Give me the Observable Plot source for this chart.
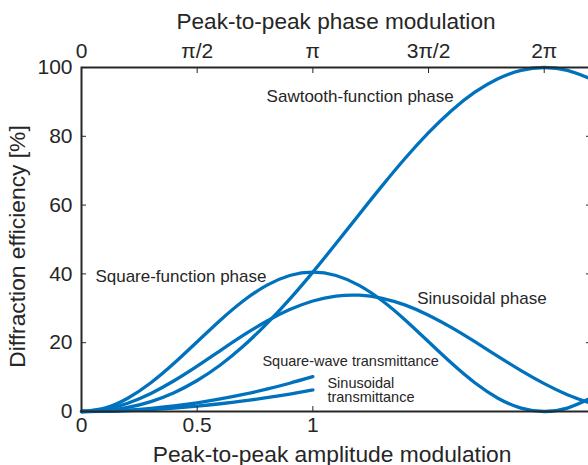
<!DOCTYPE html>
<html>
<head>
<meta charset="utf-8">
<script src="https://cdn.jsdelivr.net/npm/d3@7"></script>
<script src="https://cdn.jsdelivr.net/npm/@observablehq/plot@0.6"></script>
<style>
  html, body { margin: 0; padding: 0; background: #fff; overflow: hidden; }
  #chart { width: 588px; height: 465px; overflow: hidden; }
  #chart svg { max-width: none !important; display: block; }
</style>
</head>
<body>
<div id="chart"></div>
<script>
// Phase modulation in units of π (same axis position as amplitude modulation)
const phaseT = [0,0.1,0.2,0.3,0.4,0.5,0.6,0.7,0.8,0.9,1.0,1.1,1.2,1.3,1.4,1.5,1.6,1.7,1.8,1.9,2.0,2.1,2.2];
const sawtoothPhase = [0,0.27,1.19,2.89,5.47,9.01,13.53,19.04,25.46,32.67,40.53,48.81,57.29,65.66,73.68,81.06,87.52,92.83,96.75,99.18,100,99.18,96.75];
const squarePhase = [0,0.99,3.87,8.35,14.00,20.26,26.53,32.18,36.66,39.54,40.53,39.54,36.66,32.18,26.53,20.26,14.00,8.35,3.87,0.99,0,0.99,3.87];
const sinusoidalPhase = [0,0.61,2.41,5.25,8.93,13.19,17.71,22.18,26.24,29.63,32.13,33.55,33.81,32.91,30.92,28.01,24.38,20.30,16.04,11.89,8.10,4.89,2.43];

// Amplitude modulation
const ampM = [0,0.1,0.2,0.3,0.4,0.5,0.6,0.7,0.8,0.9,1.0];
const squareWaveTransmittance = [0,0.10,0.41,0.91,1.62,2.53,3.65,4.96,6.48,8.21,10.13];
const sinusoidalTransmittance = [0,0.06,0.25,0.56,1.00,1.56,2.25,3.06,4.00,5.06,6.25];

// Ticks
const bottomTicks = [0, 0.5, 1];
const bottomTickLabels = ["0", "0.5", "1"];
const topTicks = [0, 0.5, 1, 1.5, 2];
const topTickLabels = ["0", "π/2", "π", "3π/2", "2π"];
const yTicks = [0, 20, 40, 60, 80, 100];

const bottomTitle = "Peak-to-peak amplitude modulation";
const topTitle = "Peak-to-peak phase modulation";
const yTitle = "Diffraction efficiency [%]";

const series = [
  ...phaseT.map((t, i) => ({x: t, y: sawtoothPhase[i], s: "Sawtooth-function phase"})),
  ...phaseT.map((t, i) => ({x: t, y: squarePhase[i], s: "Square-function phase"})),
  ...phaseT.map((t, i) => ({x: t, y: sinusoidalPhase[i], s: "Sinusoidal phase"})),
  ...ampM.map((m, i) => ({x: m, y: squareWaveTransmittance[i], s: "Square-wave transmittance"})),
  ...ampM.map((m, i) => ({x: m, y: sinusoidalTransmittance[i], s: "Sinusoidal transmittance"}))
];

const bigLabels = [
  {x: 0.80, y: 91.6, text: "Sawtooth-function phase"},
  {x: 0.06, y: 39.2, text: "Square-function phase"},
  {x: 1.451, y: 32.8, text: "Sinusoidal phase"}
];
const smallLabels = [
  {x: 0.782, y: 14.4, text: "Square-wave transmittance"},
  {x: 1.063, y: 6.1, text: "Sinusoidal\ntransmittance"}
];

const ink = "#262626";
const blue = "#0072BD";
const font = "'Liberation Sans', Arial, Helvetica, sans-serif";
const bMap = new Map(bottomTicks.map((d, i) => [d, bottomTickLabels[i]]));
const tMap = new Map(topTicks.map((d, i) => [d, topTickLabels[i]]));

const chart = Plot.plot({
  width: 600,
  height: 465,
  marginLeft: 81,
  marginRight: 10,
  marginTop: 67,
  marginBottom: 54,
  style: {fontFamily: font, fontSize: "21px", color: ink, background: "#fff"},
  x: {domain: [0, 2.2]},
  y: {domain: [0, 100]},
  marks: [
    Plot.line(series, {x: "x", y: "y", z: "s", stroke: blue, strokeWidth: 3.3, curve: "natural"}),
    Plot.frame({stroke: ink, strokeWidth: 2}),
    // inward ticks
    Plot.axisX({anchor: "bottom", ticks: bottomTicks, tickSize: -5, fill: "none", stroke: ink, label: null}),
    Plot.axisX({anchor: "top", ticks: topTicks, tickSize: -5, fill: "none", stroke: ink, label: null}),
    Plot.axisY({anchor: "left", ticks: yTicks, tickSize: -5, fill: "none", stroke: ink, label: null}),
    Plot.axisY({anchor: "right", ticks: yTicks, tickSize: -5, fill: "none", stroke: ink, label: null}),
    // tick labels
    Plot.axisX({anchor: "bottom", ticks: bottomTicks, tickSize: 0, tickPadding: 6, stroke: "none", fill: ink, fontSize: 21, tickFormat: d => bMap.get(d), label: null}),
    Plot.axisX({anchor: "top", ticks: topTicks, tickSize: 0, tickPadding: 10, stroke: "none", fill: ink, fontSize: 21, tickFormat: d => tMap.get(d), label: null}),
    Plot.axisY({anchor: "left", ticks: yTicks, tickSize: 0, tickPadding: 9, stroke: "none", fill: ink, fontSize: 21, tickFormat: d => String(d), label: null}),
    // axis titles
    Plot.text([bottomTitle], {frameAnchor: "bottom", dx: -4, dy: 43, fontSize: 22.8, fill: ink, textAnchor: "middle", lineAnchor: "middle"}),
    Plot.text([topTitle], {frameAnchor: "top", dy: -46, fontSize: 22.6, fill: ink, textAnchor: "middle", lineAnchor: "middle"}),
    Plot.text([yTitle], {frameAnchor: "left", dx: -64, dy: 7, rotate: -90, fontSize: 22.8, fill: ink, textAnchor: "middle", lineAnchor: "middle"}),
    // curve annotations
    Plot.text(bigLabels, {x: "x", y: "y", text: "text", textAnchor: "start", fontSize: 17, fill: ink, lineAnchor: "middle"}),
    Plot.text(smallLabels, {x: "x", y: "y", text: "text", textAnchor: "start", fontSize: 14.5, fill: ink, lineAnchor: "middle", lineHeight: 0.97})
  ]
});
chart.style.maxWidth = "none";
document.getElementById("chart").appendChild(chart);
</script>
</body>
</html>
